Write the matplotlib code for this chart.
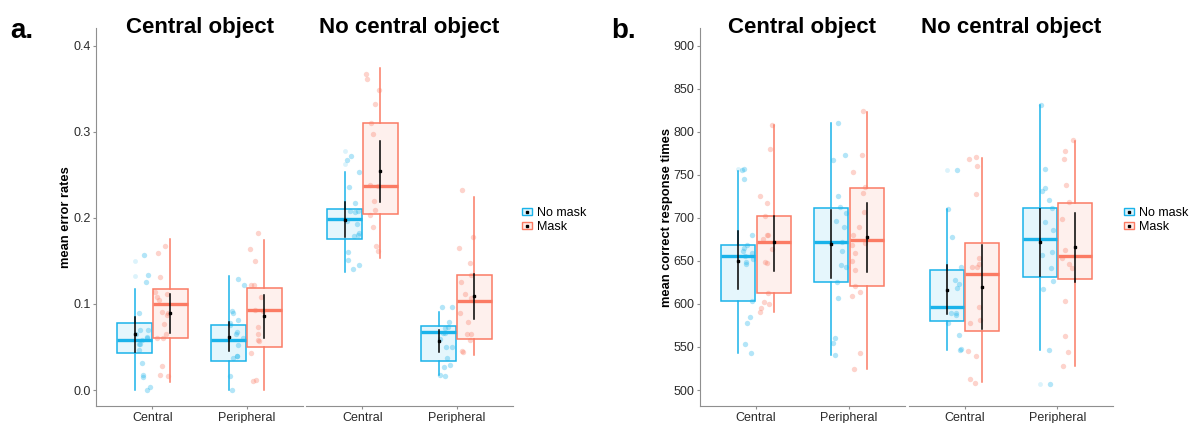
import numpy as np
import matplotlib
matplotlib.use('Agg')
import matplotlib.pyplot as plt
from matplotlib.patches import Patch
from matplotlib.lines import Line2D
from matplotlib.legend_handler import HandlerTuple

plt.rcParams['font.family'] = ['Liberation Sans', 'DejaVu Sans']

facets = ['Central object', 'No central object']
locations = ['Central', 'Peripheral']
conditions = ['No mask', 'Mask']

# rows: CO-Central, CO-Peripheral, NCO-Central, NCO-Peripheral
# cols: whisker low, q1, median, q3, whisker high, mean, ci low, ci high
err_nomask = np.array([
    [0.000, 0.043, 0.058, 0.078, 0.117, 0.065, 0.044, 0.085],
    [0.000, 0.034, 0.058, 0.076, 0.133, 0.062, 0.045, 0.079],
    [0.137, 0.175, 0.199, 0.210, 0.254, 0.198, 0.178, 0.219],
    [0.017, 0.034, 0.067, 0.074, 0.091, 0.057, 0.044, 0.070],
])
err_mask = np.array([
    [0.009, 0.060, 0.100, 0.117, 0.175, 0.089, 0.066, 0.112],
    [0.000, 0.050, 0.093, 0.119, 0.174, 0.086, 0.060, 0.111],
    [0.153, 0.205, 0.237, 0.310, 0.374, 0.255, 0.219, 0.290],
    [0.041, 0.059, 0.103, 0.134, 0.224, 0.109, 0.083, 0.135],
])
rt_nomask = np.array([
    [543, 603, 656, 669, 755, 650, 617, 685],
    [541, 626, 672, 712, 810, 670, 630, 709],
    [546, 580, 597, 640, 710, 616, 588, 645],
    [546, 631, 676, 712, 831, 672, 633, 711],
])
rt_mask = np.array([
    [591, 613, 672, 702, 808, 672, 638, 702],
    [525, 621, 674, 735, 823, 678, 637, 718],
    [509, 569, 635, 671, 770, 620, 571, 669],
    [528, 629, 656, 718, 790, 666, 625, 706],
])

# boxplot outliers (drawn faintly at box centre)
err_nomask_out = [[0.150, 0.133], [], [0.278, 0.263], []]
err_mask_out = [[], [], [], []]
rt_nomask_out = [[757], [], [756], [507]]
rt_mask_out = [[], [], [], []]

# individual participant means
err_nomask_pts = [
    [0.157, 0.134, 0.126, 0.089, 0.070, 0.070, 0.065, 0.062, 0.060, 0.058,
     0.054, 0.053, 0.046, 0.031, 0.018, 0.015, 0.004, 0.0],
    [0.129, 0.122, 0.090, 0.092, 0.081, 0.078, 0.075, 0.067, 0.065, 0.061,
     0.052, 0.040, 0.039, 0.037, 0.016, 0.0],
    [0.272, 0.267, 0.254, 0.236, 0.217, 0.208, 0.208, 0.207, 0.197, 0.193,
     0.183, 0.180, 0.179, 0.160, 0.151, 0.145, 0.141],
    [0.097, 0.096, 0.079, 0.073, 0.072, 0.066, 0.066, 0.059, 0.050, 0.050,
     0.037, 0.027, 0.029, 0.017, 0.016],
]
err_mask_pts = [
    [0.167, 0.159, 0.131, 0.114, 0.112, 0.108, 0.105, 0.090, 0.091, 0.087,
     0.077, 0.065, 0.061, 0.060, 0.028, 0.016, 0.018],
    [0.182, 0.164, 0.150, 0.122, 0.122, 0.108, 0.093, 0.092, 0.073, 0.065,
     0.058, 0.057, 0.043, 0.012, 0.010],
    [0.367, 0.362, 0.349, 0.333, 0.311, 0.298, 0.237, 0.238, 0.220, 0.209,
     0.203, 0.189, 0.168, 0.162],
    [0.232, 0.178, 0.165, 0.148, 0.134, 0.126, 0.112, 0.107, 0.090, 0.079,
     0.065, 0.065, 0.058, 0.044, 0.045],
]
rt_nomask_pts = [
    [757, 756, 745, 680, 669, 665, 662, 659, 656, 652, 649, 647, 603, 585,
     578, 554, 543],
    [811, 773, 767, 725, 713, 706, 697, 690, 672, 662, 645, 643, 626, 607,
     560, 555, 541],
    [756, 710, 678, 643, 628, 623, 619, 589, 589, 587, 578, 564, 548, 546],
    [831, 757, 735, 731, 721, 712, 695, 686, 661, 657, 642, 627, 617, 547,
     507],
]
rt_mask_pts = [
    [808, 780, 726, 717, 702, 680, 680, 676, 664, 649, 648, 613, 595, 591,
     602, 600],
    [824, 773, 754, 736, 729, 707, 690, 671, 680, 669, 650, 659, 639, 621,
     614, 609, 543, 525],
    [771, 769, 760, 728, 653, 647, 643, 643, 597, 581, 578, 545, 540, 513,
     508],
    [791, 778, 769, 738, 719, 699, 663, 654, 647, 642, 604, 563, 544, 528],
]

BLUE = '#1AB3EA'
RED = '#FB7B64'
AXCOL = '#8f8f8f'
TXTCOL = '#2b2b2b'

rng = np.random.default_rng(7)


def draw_facet(ax, k, stats, outs, pts):
    '''Draw one facet (k=0 central object, k=1 no central object).'''
    colors = [BLUE, RED]
    box_off = [-0.19, 0.19]
    pt_off = [-0.105, 0.105]
    for c in range(2):
        col = colors[c]
        for j in range(2):
            g = 2 * k + j
            s = stats[c][g]
            pos = j + 1 + box_off[c]
            # jittered points
            yy = np.asarray(pts[c][g], dtype=float)
            xx = j + 1 + pt_off[c] + rng.uniform(-0.075, 0.075, len(yy))
            ax.scatter(xx, yy, s=15, color=col, alpha=0.33, lw=0, zorder=1)
            # box
            bstats = [dict(whislo=s[0], q1=s[1], med=s[2], q3=s[3],
                           whishi=s[4], fliers=outs[c][g])]
            ax.bxp(bstats, positions=[pos], widths=0.365, patch_artist=True,
                   showcaps=False, manage_ticks=False,
                   boxprops=dict(facecolor=matplotlib.colors.to_rgba(col, 0.11),
                                 edgecolor=col, linewidth=1.1),
                   whiskerprops=dict(color=col, linewidth=1.1),
                   medianprops=dict(color=col, linewidth=2.4,
                                    solid_capstyle='butt'),
                   flierprops=dict(marker='o', markersize=3.5,
                                   markerfacecolor=col, markeredgecolor='none',
                                   alpha=0.15),
                   zorder=2)
            # mean and confidence interval
            ax.plot([pos, pos], [s[6], s[7]], color='black', lw=1.1, zorder=3)
            ax.plot(pos, s[5], 's', color='black', ms=2.0, zorder=4)

    ax.set_xlim(0.4, 2.6)
    ax.set_xticks([1, 2])
    ax.set_xticklabels(locations, fontsize=9, color=TXTCOL)
    for side in ['top', 'right']:
        ax.spines[side].set_visible(False)
    ax.spines['bottom'].set_color(AXCOL)
    ax.spines['left'].set_color(AXCOL)
    ax.tick_params(axis='x', length=2.5, color=AXCOL, pad=2)
    ax.tick_params(axis='y', length=2.5, color=AXCOL, pad=1.5,
                   labelsize=9, labelcolor=TXTCOL)
    if k == 1:
        ax.spines['left'].set_visible(False)
        ax.tick_params(axis='y', left=False, labelleft=False)


fig = plt.figure(figsize=(11.96, 4.23), dpi=100)
W, H = 1196.0, 423.0

panels = [
    dict(stats=[err_nomask, err_mask], outs=[err_nomask_out, err_mask_out],
         pts=[err_nomask_pts, err_mask_pts], lefts=[96, 306], widths=[207, 207],
         ylim=(-0.0186, 0.4209), yticks=[0.0, 0.1, 0.2, 0.3, 0.4],
         fmt='{:.1f}', ylabel='mean error rates', tag='a.', tagx=10,
         legx=522),
    dict(stats=[rt_nomask, rt_mask], outs=[rt_nomask_out, rt_mask_out],
         pts=[rt_nomask_pts, rt_mask_pts], lefts=[700, 909], widths=[205, 204],
         ylim=(481.4, 920.9), yticks=list(range(500, 901, 50)),
         fmt='{:d}', ylabel='mean correct response times', tag='b.', tagx=611,
         legx=1124),
]

for p in panels:
    axes = []
    for k in range(2):
        ax = fig.add_axes([p['lefts'][k] / W, (H - 406) / H,
                           p['widths'][k] / W, 378 / H])
        draw_facet(ax, k, p['stats'], p['outs'], p['pts'])
        ax.set_ylim(*p['ylim'])
        ax.set_yticks(p['yticks'])
        ax.set_yticklabels([p['fmt'].format(t) for t in p['yticks']])
        fig.text((p['lefts'][k] + p['widths'][k] / 2) / W, 1 - 33 / H,
                 facets[k], fontsize=16, fontweight='bold', ha='center',
                 va='baseline')
        axes.append(ax)
    axes[0].set_ylabel(p['ylabel'], fontsize=9.3, fontweight='bold',
                       labelpad=0.5)
    fig.text(p['tagx'] / W, 1 - 38 / H, p['tag'], fontsize=20,
             fontweight='bold', ha='left', va='baseline')

    handles = []
    for col in [BLUE, RED]:
        box = Patch(facecolor=matplotlib.colors.to_rgba(col, 0.15),
                    edgecolor=col, linewidth=1.0)
        dot = Line2D([], [], color='black', marker='s', markersize=2,
                     linestyle='none')
        handles.append((box, dot))
    fig.legend(handles, conditions, loc='center left',
               bbox_to_anchor=(p['legx'] / W, 1 - 220 / H),
               handler_map={tuple: HandlerTuple(ndivide=1, pad=0)},
               frameon=False, fontsize=9, handlelength=0.8, handleheight=0.55,
               handletextpad=0.4, labelspacing=0.15, borderpad=0,
               borderaxespad=0)

fig.savefig('out.png', dpi=100)
